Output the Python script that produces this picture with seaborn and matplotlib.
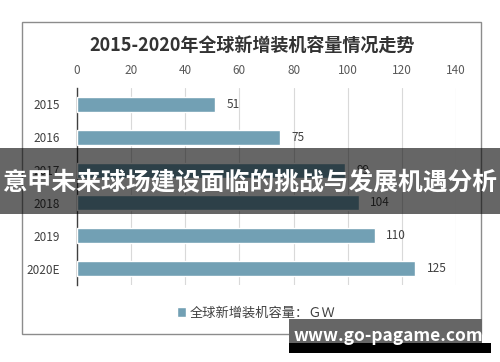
import matplotlib
matplotlib.use("Agg")
import matplotlib.pyplot as plt
from matplotlib.patches import Rectangle
import seaborn as sns

years = ["2015", "2016", "2017", "2018", "2019", "2020E"]
capacity = [51, 75, 99, 104, 110, 125]
x_ticks = [0, 20, 40, 60, 80, 100, 120, 140]
title = "2015-2020年全球新增装机容量情况走势"
legend_label = "全球新增装机容量：ＧＷ"
banner_text = "意甲未来球场建设面临的挑战与发展机遇分析"
watermark = "www.go-pagame.com"

sns.set_style("white")
plt.rcParams["font.family"] = ["Noto Sans CJK SC", "DejaVu Sans"]

W, H = 500, 362
fig = plt.figure(figsize=(W / 100, H / 100), dpi=100)


def fx(px):
    return px / W


def fy(py):
    return 1 - py / H


# chart frame
fig.patches.append(Rectangle((fx(22), fy(334)), fx(459), 312 / H, transform=fig.transFigure,
                             fill=False, edgecolor="#8c8c8c", linewidth=1, zorder=1))

ax = fig.add_axes([fx(77), fy(285), fx(379), 197 / H])
sns.barplot(x=capacity, y=years, orient="h", color="#72a0b4", saturation=1,
            width=0.46, ax=ax, label=legend_label, zorder=3)

ax.set_xlim(0, 140)
ax.set_xticks(x_ticks)
ax.xaxis.tick_top()
ax.tick_params(axis="x", length=0, pad=8, labelsize=8.5, labelcolor="#595959")
ax.tick_params(axis="y", length=0, pad=12, labelsize=8.5, labelcolor="#404040")
ax.set_xlabel("")
ax.set_ylabel("")
ax.grid(axis="x", color="#d9d9d9", linewidth=0.8, zorder=0)
ax.set_axisbelow(True)
for side in ["top", "right", "bottom"]:
    ax.spines[side].set_visible(False)
ax.spines["left"].set_color("#404040")
ax.spines["left"].set_linewidth(1)

ax.bar_label(ax.containers[0], padding=8, color="#404040", fontsize=8.5)

fig.text(0.505, fy(45), title, ha="center", va="center", fontsize=13,
         fontweight="bold", color="#333333")

ax.legend(loc="center", bbox_to_anchor=(fx(256), fy(313)), bbox_transform=fig.transFigure,
          frameon=False, fontsize=9.5, handlelength=0.7, handleheight=0.7,
          handletextpad=0.3, labelcolor="#404040")

# dark banner across the middle
fig.patches.append(Rectangle((0, fy(214)), 1, 66 / H, transform=fig.transFigure,
                             facecolor="black", alpha=0.6, edgecolor="none", zorder=10))
fig.text(0.5, fy(182), banner_text, ha="center", va="center", fontsize=17.8,
         fontweight="bold", color="white", zorder=11)

# watermark box
fig.patches.append(Rectangle((fx(289), fy(353)), fx(202), 10 / H, transform=fig.transFigure,
                             facecolor="black", edgecolor="none", zorder=10))
fig.patches.append(Rectangle((fx(289), fy(343)), fx(193), 24 / H, transform=fig.transFigure,
                             facecolor="#666666", edgecolor="none", zorder=10))
fig.text(fx(388), fy(336), watermark, ha="center", va="center", fontsize=12.5,
         fontweight="bold", color="white", zorder=11)

fig.savefig("out.png", dpi=100)
